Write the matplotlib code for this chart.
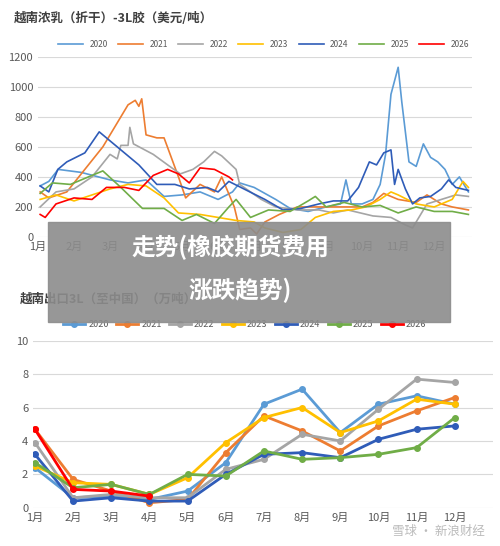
import matplotlib.pyplot as plt
from matplotlib.patches import Rectangle

plt.rcParams['font.family'] = ['Noto Sans CJK SC', 'DejaVu Sans']

YEARS = ["2020", "2021", "2022", "2023", "2024", "2025", "2026"]
COLORS = ["#5b9bd5", "#ed7d31", "#a5a5a5", "#ffc000", "#2f5cb8", "#70ad47", "#ff0000"]
MONTHS = [f"{m}月" for m in range(1, 13)]

# --- top chart: (month position, USD/t) ---
p2020 = [(1.06, 340), (1.3, 370), (1.56, 450), (2.2, 430), (3.0, 380), (3.5, 360), (4.0, 380), (4.5, 270),
         (5.0, 280), (5.5, 300), (6.0, 250), (6.4, 300), (6.6, 360), (7.0, 330), (7.6, 250), (8.0, 190),
         (8.5, 170), (9.0, 200), (9.4, 220), (9.55, 380), (9.7, 220), (10.0, 220), (10.3, 250), (10.5, 350),
         (10.65, 550), (10.8, 950), (11.0, 1130), (11.1, 900), (11.3, 500), (11.5, 470), (11.7, 620),
         (11.9, 530), (12.1, 500), (12.3, 450), (12.5, 350), (12.7, 400), (12.95, 300)]
p2021 = [(1.06, 300), (1.3, 260), (1.8, 300), (2.3, 450), (2.8, 600), (3.2, 760), (3.5, 880), (3.7, 910),
         (3.8, 870), (3.88, 920), (4.0, 680), (4.3, 660), (4.5, 660), (4.9, 400), (5.1, 260), (5.5, 350),
         (5.9, 300), (6.1, 400), (6.45, 200), (6.6, 50), (6.9, 60), (7.07, 20), (7.3, 100), (7.7, 150),
         (8.2, 200), (9.0, 200), (10.0, 200), (10.3, 230), (10.6, 290), (11.0, 250), (11.5, 230),
         (11.8, 280), (12.2, 220), (12.5, 200), (12.95, 180)]
p2022 = [(1.06, 200), (1.5, 300), (2.0, 320), (2.5, 400), (3.0, 550), (3.2, 520), (3.3, 610), (3.5, 610),
         (3.55, 730), (3.65, 620), (4.2, 550), (4.6, 480), (4.95, 420), (5.3, 450), (5.6, 500), (5.9, 570),
         (6.1, 540), (6.5, 450), (6.6, 350), (7.2, 250), (7.6, 200), (8.2, 180), (8.8, 180), (9.2, 160),
         (9.6, 180), (10.3, 140), (10.8, 130), (11.2, 80), (11.4, 60), (11.8, 220), (12.2, 250),
         (12.6, 280), (12.95, 270)]
p2023 = [(1.06, 250), (1.5, 280), (2.0, 240), (2.5, 280), (3.0, 320), (3.5, 350), (4.0, 340), (4.5, 260),
         (4.9, 160), (5.5, 150), (6.0, 130), (6.5, 110), (7.0, 100), (7.3, 60), (7.8, 30), (8.3, 50),
         (8.7, 130), (9.2, 170), (9.7, 180), (10.1, 200), (10.5, 250), (10.8, 300), (11.0, 280),
         (11.5, 220), (12.0, 200), (12.5, 250), (12.8, 370), (12.95, 330)]
p2024 = [(1.06, 340), (1.3, 300), (1.55, 450), (1.8, 500), (2.3, 560), (2.7, 700), (3.2, 600), (3.8, 480),
         (4.3, 350), (4.8, 350), (5.2, 320), (5.7, 330), (6.0, 300), (6.3, 370), (6.8, 310), (7.3, 250),
         (7.8, 180), (8.3, 190), (8.8, 220), (9.2, 240), (9.6, 240), (9.9, 330), (10.2, 500), (10.4, 480),
         (10.6, 560), (10.8, 580), (10.9, 350), (11.0, 450), (11.2, 320), (11.4, 220), (11.6, 260),
         (11.9, 270), (12.2, 320), (12.4, 380), (12.6, 330), (12.95, 310)]
p2025 = [(1.06, 290), (1.4, 360), (1.9, 350), (2.4, 400), (2.8, 440), (3.3, 330), (3.9, 190), (4.5, 190),
         (5.0, 110), (5.4, 150), (5.9, 90), (6.3, 200), (6.5, 250), (6.9, 130), (7.4, 180), (8.0, 170),
         (8.5, 240), (8.7, 270), (9.0, 200), (9.5, 230), (10.0, 200), (10.5, 210), (11.0, 160),
         (11.5, 200), (12.0, 170), (12.5, 170), (12.95, 150)]
p2026 = [(1.06, 150), (1.2, 130), (1.5, 220), (2.0, 260), (2.5, 250), (2.9, 330), (3.4, 330), (3.8, 310),
         (4.2, 410), (4.6, 450), (4.9, 420), (5.2, 360), (5.5, 460), (5.9, 450), (6.3, 400), (6.4, 380)]
top_series = [p2020, p2021, p2022, p2023, p2024, p2025, p2026]

# --- bottom chart: monthly export (10k t) ---
e2020 = [2.4, 0.6, 0.7, 0.5, 1.0, 2.7, 6.2, 7.1, 4.5, 6.2, 6.7, 6.2]
e2021 = [4.7, 1.7, 1.0, 0.3, 0.5, 3.3, 5.5, 4.6, 3.4, 4.9, 5.8, 6.6]
e2022 = [3.9, 0.6, 0.8, 0.6, 0.6, 2.3, 2.9, 4.4, 4.0, 5.9, 7.7, 7.5]
e2023 = [2.5, 1.5, 1.4, 0.8, 1.8, 3.9, 5.4, 6.0, 4.5, 5.2, 6.5, 6.2]
e2024 = [3.2, 0.4, 0.6, 0.4, 0.4, 2.0, 3.2, 3.3, 3.0, 4.1, 4.7, 4.9]
e2025 = [2.7, 1.2, 1.4, 0.8, 2.0, 1.9, 3.4, 2.9, 3.0, 3.2, 3.6, 5.4]
e2026 = [4.7, 1.1, 1.0, 0.7]
bottom_series = [e2020, e2021, e2022, e2023, e2024, e2025, e2026]

fig = plt.figure(figsize=(5, 5.46), dpi=100)
TXT = "#595959"

# top chart
ax1 = fig.add_axes([0.076, 0.566, 0.868, 0.33])
for pts, c, y in zip(top_series, COLORS, YEARS):
    ax1.plot([p[0] for p in pts], [p[1] for p in pts], color=c, lw=1.2, label=y)
ax1.set_xlim(1, 13.05)
ax1.set_ylim(0, 1200)
ax1.set_yticks(range(0, 1201, 200))
ax1.set_xticks(range(1, 13))
ax1.set_xticklabels(MONTHS)
ax1.grid(axis="y", color="#d9d9d9", lw=0.8)
for s in ax1.spines.values():
    s.set_visible(False)
ax1.tick_params(length=0, labelsize=8, colors=TXT)
ax1.legend(loc="lower center", bbox_to_anchor=(0.52, 1.0), ncol=7, frameon=False,
           fontsize=6, handlelength=3, columnspacing=1.2, labelcolor=TXT)
fig.text(0.028, 0.96, "越南浓乳（折干）-3L胶（美元/吨）", fontsize=9, color="#404040", weight="bold")

# bottom chart
ax2 = fig.add_axes([0.066, 0.070, 0.92, 0.306])
for vals, c, y in zip(bottom_series, COLORS, YEARS):
    ax2.plot(range(1, len(vals) + 1), vals, color=c, lw=2, marker="o", ms=4, label=y)
ax2.set_xlim(0.95, 13)
ax2.set_ylim(0, 10)
ax2.set_yticks(range(0, 11, 2))
ax2.set_xticks(range(1, 13))
ax2.set_xticklabels(MONTHS)
ax2.grid(axis="y", color="#d9d9d9", lw=0.8)
for s in ax2.spines.values():
    s.set_visible(False)
ax2.tick_params(length=0, labelsize=8, colors=TXT)
ax2.legend(loc="lower center", bbox_to_anchor=(0.46, 1.02), ncol=7, frameon=False,
           fontsize=6.5, handlelength=2.5, columnspacing=0.8, handletextpad=0.3, labelcolor=TXT)
fig.text(0.04, 0.445, "越南出口3L（至中国）（万吨）", fontsize=9, color="#404040", weight="bold")

# overlay banner
fig.patches.append(Rectangle((0.096, 0.41), 0.804, 0.183, transform=fig.transFigure,
                             color="#8c8c8c", alpha=0.9, zorder=10))
fig.text(0.46, 0.546, "走势(橡胶期货费用", fontsize=17, color="white", weight="bold",
         ha="center", va="center", zorder=11)
fig.text(0.48, 0.468, "涨跌趋势)", fontsize=17, color="white", weight="bold",
         ha="center", va="center", zorder=11)
fig.text(0.97, 0.015, "雪球 · 新浪财经", fontsize=9, color="#bbbbbb", ha="right", va="bottom")

fig.savefig("out.png", dpi=100)
